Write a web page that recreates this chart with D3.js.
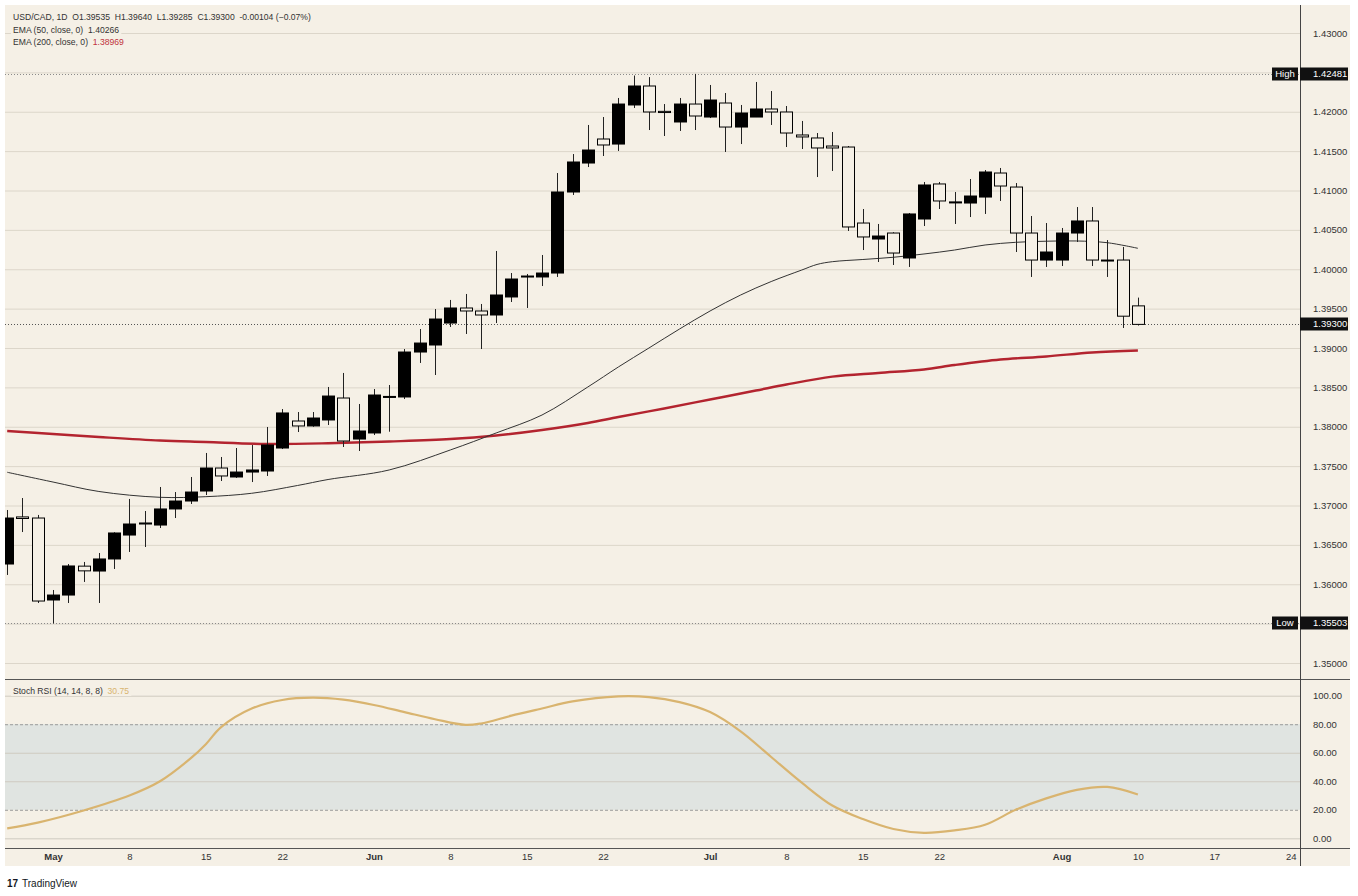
<!DOCTYPE html>
<html>
<head>
<meta charset="utf-8">
<script src="https://cdn.jsdelivr.net/npm/d3@7"></script>
<style>
body { margin: 0; background: #fff; }
text { font-family: "Liberation Sans", Arial, sans-serif; }
</style>
</head>
<body>
<script>
// daily candles, Apr 28 -> Aug 10 (weekdays)
const opens = [1.36257,1.36855,1.36841,1.35800,1.35863,1.36230,1.36168,1.36321,1.36625,1.36778,
1.36752,1.36956,1.37057,1.37184,1.37476,1.37362,1.37425,1.37438,1.37730,1.38073,
1.38010,1.38086,1.38365,1.37844,1.37921,1.38378,1.38378,1.38949,1.39038,1.39317,
1.39508,1.39470,1.39419,1.39648,1.39905,1.39902,1.39952,1.40981,1.41349,1.41654,
1.41590,1.42086,1.42327,1.42005,1.41870,1.42098,1.41933,1.42111,1.41806,1.41933,
1.42035,1.41997,1.41705,1.41667,1.41565,1.41552,1.40587,1.40384,1.40460,1.40143,
1.40638,1.41083,1.40845,1.40841,1.40917,1.41222,1.41044,1.40460,1.40117,1.40117,
1.40460,1.40613,1.40117,1.40117,1.39535];
const highs = [1.36943,1.37095,1.36880,1.35927,1.36257,1.36283,1.36397,1.36660,1.37083,1.36930,
1.37235,1.37171,1.37362,1.37667,1.37616,1.37730,1.37768,1.37997,1.38225,1.38187,
1.38187,1.38505,1.38683,1.38289,1.38479,1.38530,1.38987,1.39241,1.39495,1.39610,
1.39686,1.39559,1.40232,1.39952,1.39940,1.40181,1.41222,1.41463,1.41832,1.41933,
1.42175,1.42460,1.42440,1.42098,1.42175,1.42481,1.42340,1.42238,1.42086,1.42378,
1.42263,1.42073,1.41883,1.41730,1.41743,1.41565,1.40765,1.40575,1.40470,1.40714,
1.41108,1.41108,1.40981,1.41146,1.41260,1.41286,1.41095,1.40676,1.40587,1.40524,
1.40790,1.40790,1.40371,1.40283,1.39640];
const lows = [1.36118,1.36663,1.35762,1.35503,1.35762,1.36029,1.35762,1.36194,1.36410,1.36473,
1.36714,1.36841,1.37019,1.37133,1.37311,1.37350,1.37298,1.37375,1.37717,1.37933,
1.38000,1.38022,1.37743,1.37692,1.37895,1.37937,1.38352,1.38810,1.38657,1.39267,
1.39178,1.38987,1.39317,1.39584,1.39508,1.39787,1.39902,1.40943,1.41298,1.41438,
1.41502,1.42048,1.41768,1.41692,1.41756,1.41768,1.41920,1.41489,1.41590,1.41933,
1.41832,1.41552,1.41527,1.41171,1.41248,1.40486,1.40244,1.40092,1.40054,1.40029,
1.40549,1.40765,1.40575,1.40663,1.40702,1.40867,1.40219,1.39902,1.40029,1.40041,
1.40346,1.40041,1.39902,1.39254,1.39285];
const closes = [1.36841,1.36835,1.35787,1.35863,1.36232,1.36170,1.36321,1.36651,1.36765,1.36765,
1.36956,1.37057,1.37171,1.37476,1.37375,1.37425,1.37451,1.37768,1.38175,1.38010,
1.38111,1.38390,1.37819,1.37946,1.38403,1.38385,1.38949,1.39063,1.39368,1.39508,
1.39470,1.39419,1.39673,1.39876,1.39914,1.39952,1.40981,1.41362,1.41514,1.41578,
1.42098,1.42327,1.41997,1.41990,1.42098,1.41946,1.42149,1.41806,1.41984,1.42035,
1.41997,1.41730,1.41680,1.41540,1.41540,1.40537,1.40410,1.40422,1.40206,1.40702,
1.41070,1.40867,1.40855,1.40930,1.41235,1.41057,1.40460,1.40117,1.40219,1.40460,
1.40613,1.40117,1.40110,1.39404,1.39300];

// indicator readings (bar index -> value)
const ema50Idx  = [0,3,6,10,13,16,19,21,25,29,32,35,38,40,42,44,46,48,50,52,53,54,56,58,60,62,64,66,68,70,72,74];
const ema50Vals = [1.37422,1.37298,1.37178,1.37104,1.37112,1.37155,1.37254,1.37330,1.37451,1.37705,1.37921,1.38149,1.38505,1.38759,1.39000,1.39241,1.39470,1.39673,1.39844,1.39990,1.40061,1.40096,1.40124,1.40152,1.40194,1.40244,1.40308,1.40342,1.40356,1.40359,1.40337,1.40266];
const ema200Idx  = [0,3,6,10,13,17,21,25,29,32,35,38,40,43,46,49,51,54,57,60,62,65,68,71,74];
const ema200Vals = [1.37946,1.37908,1.37870,1.37825,1.37806,1.37781,1.37790,1.37813,1.37844,1.37889,1.37959,1.38048,1.38124,1.38232,1.38346,1.38460,1.38537,1.38636,1.38683,1.38727,1.38784,1.38854,1.38892,1.38943,1.38969];
const stochIdx  = [0,2,5,8,10,12,13,14,16,18,20,22,24,26,28,30,31,33,35,37,40,42,44,46,48,50,52,54,56,58,60,62,64,66,68,70,72,74];
const stochVals = [7,11,19.5,30,40,56,66,78,91,97,98.6,97.2,93.5,88.5,83.5,79.5,80.5,86,91,96,99.5,99,95.5,88.5,75,57,39,23,13.5,6.5,3.8,5.5,9.5,20,28,34,36,30.75];

const priceTicks = [1.35,1.355,1.36,1.365,1.37,1.375,1.38,1.385,1.39,1.395,1.40,1.405,1.41,1.415,1.42,1.425,1.43];
const priceLabelTicks = [1.35,1.36,1.365,1.37,1.375,1.38,1.385,1.39,1.395,1.40,1.405,1.41,1.415,1.42,1.43];
const stochTicks = [0,20,40,60,80,100];
const timeTickDates  = ["2026-05-01","2026-05-08","2026-05-15","2026-05-22","2026-06-01","2026-06-08","2026-06-15","2026-06-22","2026-07-01","2026-07-08","2026-07-15","2026-07-22","2026-08-03","2026-08-10","2026-08-17","2026-08-24"];
const timeTickLabels = ["May","8","15","22","Jun","8","15","22","Jul","8","15","22","Aug","10","17","24"];

const W = 1358, H = 896;
const bg = "#f5f0e6", grid = "#dcd6ca", ink = "#333";
const L = 5, R = 1300, T = 5, paneSep = 679, timeTop = 848, B = 866;
const font = "Liberation Sans, Arial, sans-serif";

const fmtDay = d3.utcFormat("%Y-%m-%d");
const days = d3.utcDay.range(new Date(Date.UTC(2026,3,28)), new Date(Date.UTC(2026,7,25)))
  .filter(d => d.getUTCDay() % 6 !== 0).map(fmtDay);

const x = d3.scalePoint().domain(days).range([7.2, 1290.7]);
const y = d3.scaleLinear().domain([1.35, 1.43]).range([663, 33]);
const ys = d3.scaleLinear().domain([0, 100]).range([838.3, 695.7]);

const svg = d3.select("body").append("svg").attr("width", W).attr("height", H);
svg.append("rect").attr("width", W).attr("height", H).attr("fill", "#fff");
svg.append("rect").attr("x", L).attr("y", T).attr("width", 1350 - L).attr("height", B - T).attr("fill", bg);

const defs = svg.append("defs");
defs.append("clipPath").attr("id", "pc").append("rect").attr("x", L).attr("y", T).attr("width", R - L).attr("height", paneSep - T);
defs.append("clipPath").attr("id", "sc").append("rect").attr("x", L).attr("y", paneSep).attr("width", R - L).attr("height", timeTop - paneSep);

// price grid
svg.append("g").attr("transform", `translate(${L},0)`)
  .call(d3.axisLeft(y).tickValues(priceTicks).tickSize(-(R - L)).tickFormat(""))
  .call(g => g.select(".domain").remove())
  .call(g => g.selectAll("line").attr("stroke", grid));

// stoch band + grid
svg.append("rect").attr("x", L).attr("width", R - L)
  .attr("y", ys(80)).attr("height", ys(20) - ys(80)).attr("fill", "#e0e4e1");
svg.append("g").attr("transform", `translate(${L},0)`)
  .call(d3.axisLeft(ys).tickValues([0,40,60,100]).tickSize(-(R - L)).tickFormat(""))
  .call(g => g.select(".domain").remove())
  .call(g => g.selectAll("line").attr("stroke", "#cfcac0"));
svg.append("g").attr("transform", `translate(${L},0)`)
  .call(d3.axisLeft(ys).tickValues([20,80]).tickSize(-(R - L)).tickFormat(""))
  .call(g => g.select(".domain").remove())
  .call(g => g.selectAll("line").attr("stroke", "#9a9a9a").attr("stroke-dasharray", "3,2"));

// high / low / last dotted lines
const hiVal = d3.max(highs), loVal = d3.min(lows), lastVal = closes[closes.length - 1];
[[hiVal, "#8a8a8a"], [loVal, "#8a8a8a"], [lastVal, "#555"]].forEach(([v, c]) => {
  svg.append("line").attr("x1", L).attr("x2", R)
    .attr("y1", Math.round(y(v)) + 0.5).attr("y2", Math.round(y(v)) + 0.5)
    .attr("stroke", c).attr("stroke-dasharray", "1,2");
});

const plot = svg.append("g").attr("clip-path", "url(#pc)");

// EMA lines
const emaLine = d3.line().x(d => x(days[d[0]])).y(d => y(d[1])).curve(d3.curveCatmullRom.alpha(0.5));
plot.append("path").datum(d3.zip(ema200Idx, ema200Vals)).attr("d", emaLine)
  .attr("fill", "none").attr("stroke", "#b3242f").attr("stroke-width", 2.4);
plot.append("path").datum(d3.zip(ema50Idx, ema50Vals)).attr("d", emaLine)
  .attr("fill", "none").attr("stroke", "#333").attr("stroke-width", 1);

// candles
const candles = opens.map((o, i) => ({ day: days[i], o, h: highs[i], l: lows[i], c: closes[i] }));
const cg = plot.selectAll("g.candle").data(candles).enter().append("g").attr("class", "candle");
cg.append("line")
  .attr("x1", d => Math.round(x(d.day)) + 0.5).attr("x2", d => Math.round(x(d.day)) + 0.5)
  .attr("y1", d => y(d.h)).attr("y2", d => y(d.l))
  .attr("stroke", "#222").attr("stroke-width", 1);
cg.append("rect")
  .attr("x", d => Math.round(x(d.day)) - 5.5)
  .attr("width", 12)
  .attr("y", d => y(Math.max(d.o, d.c)))
  .attr("height", d => Math.max(1, Math.abs(y(d.o) - y(d.c))))
  .attr("fill", d => d.c >= d.o ? "#000" : bg)
  .attr("stroke", "#000").attr("stroke-width", 1);

// stoch RSI line
const stochLine = d3.line().x(d => x(days[d[0]])).y(d => ys(d[1])).curve(d3.curveCatmullRom.alpha(0.5));
svg.append("g").attr("clip-path", "url(#sc)").append("path")
  .datum(d3.zip(stochIdx, stochVals)).attr("d", stochLine)
  .attr("fill", "none").attr("stroke", "#d9b46f").attr("stroke-width", 2.2);

// pane borders
svg.append("line").attr("x1", L).attr("x2", 1350).attr("y1", paneSep + 0.5).attr("y2", paneSep + 0.5).attr("stroke", "#555");
svg.append("line").attr("x1", L).attr("x2", 1350).attr("y1", timeTop + 0.5).attr("y2", timeTop + 0.5).attr("stroke", "#555");
svg.append("line").attr("x1", R + 0.5).attr("x2", R + 0.5).attr("y1", T).attr("y2", B).attr("stroke", "#444");

// right axes
svg.append("g").attr("transform", `translate(${R},0)`)
  .call(d3.axisRight(y).tickValues(priceLabelTicks).tickSize(0).tickPadding(13).tickFormat(d3.format(".5f")))
  .call(g => g.select(".domain").remove())
  .call(g => g.selectAll("text").attr("font-size", 9.5).attr("fill", ink).attr("font-family", font));
svg.append("g").attr("transform", `translate(${R},0)`)
  .call(d3.axisRight(ys).tickValues(stochTicks).tickSize(0).tickPadding(13).tickFormat(d3.format(".2f")))
  .call(g => g.select(".domain").remove())
  .call(g => g.selectAll("text").attr("font-size", 9.5).attr("fill", ink).attr("font-family", font));

// time axis
svg.append("g").attr("transform", `translate(0,${timeTop})`)
  .call(d3.axisBottom(x).tickValues(timeTickDates).tickSize(0).tickPadding(5).tickFormat((d, i) => timeTickLabels[i]))
  .call(g => g.select(".domain").remove())
  .call(g => g.selectAll("text").attr("font-size", 9.5).attr("fill", ink)
    .attr("font-family", font)
    .attr("font-weight", (d, i) => /[A-Za-z]/.test(timeTickLabels[i]) ? "bold" : "normal"));

// price tags
function tag(v, label) {
  const yy = Math.round(y(v));
  if (label) {
    svg.append("rect").attr("x", 1272).attr("y", yy - 6.5).attr("width", 26).attr("height", 13).attr("fill", "#111");
    svg.append("text").attr("x", 1285).attr("y", yy + 3.3).attr("text-anchor", "middle")
      .attr("font-size", 9.5).attr("fill", "#fff").text(label);
  }
  svg.append("rect").attr("x", 1300).attr("y", yy - 6.5).attr("width", 48).attr("height", 13).attr("fill", "#111");
  svg.append("text").attr("x", 1313).attr("y", yy + 3.3)
    .attr("font-size", 9.5).attr("fill", "#fff").text(d3.format(".5f")(v));
}
tag(hiVal, "High");
tag(loVal, "Low");
tag(lastVal, null);

// legends
function legendLine(yb, parts) {
  const g = svg.append("g");
  const box = g.append("rect").attr("fill", bg);
  const t = g.append("text").attr("x", 13).attr("y", yb).attr("font-size", 8.6).attr("fill", ink);
  parts.forEach(p => t.append("tspan").attr("fill", p[1] || ink).style("white-space", "pre").text(p[0]));
  const bb = t.node().getBBox();
  box.attr("x", bb.x - 2).attr("y", bb.y).attr("width", bb.width + 4).attr("height", bb.height);
}
const last = opens.length - 1;
const chg = closes[last] - closes[last - 1];
legendLine(20, [["USD/CAD, 1D  O" + opens[last].toFixed(5) + "  H" + highs[last].toFixed(5) + "  L" + lows[last].toFixed(5) + "  C" + closes[last].toFixed(5) + "  " + chg.toFixed(5) + " (\u22120.07%)"]]);
legendLine(32.5, [["EMA (50, close, 0)  "], [ema50Vals[ema50Vals.length - 1].toFixed(5)]]);
legendLine(45, [["EMA (200, close, 0)  "], [ema200Vals[ema200Vals.length - 1].toFixed(5), "#c0323c"]]);
legendLine(694, [["Stoch RSI (14, 14, 8, 8)  "], [stochVals[stochVals.length - 1].toFixed(2), "#d9b46f"]]);

// footer logo
svg.append("text").attr("x", 7).attr("y", 887).attr("font-size", 10).attr("font-weight", 900).attr("fill", "#131722").text("17");
svg.append("text").attr("x", 22).attr("y", 887).attr("font-size", 10).attr("fill", "#131722").text("TradingView");
</script>
</body>
</html>
